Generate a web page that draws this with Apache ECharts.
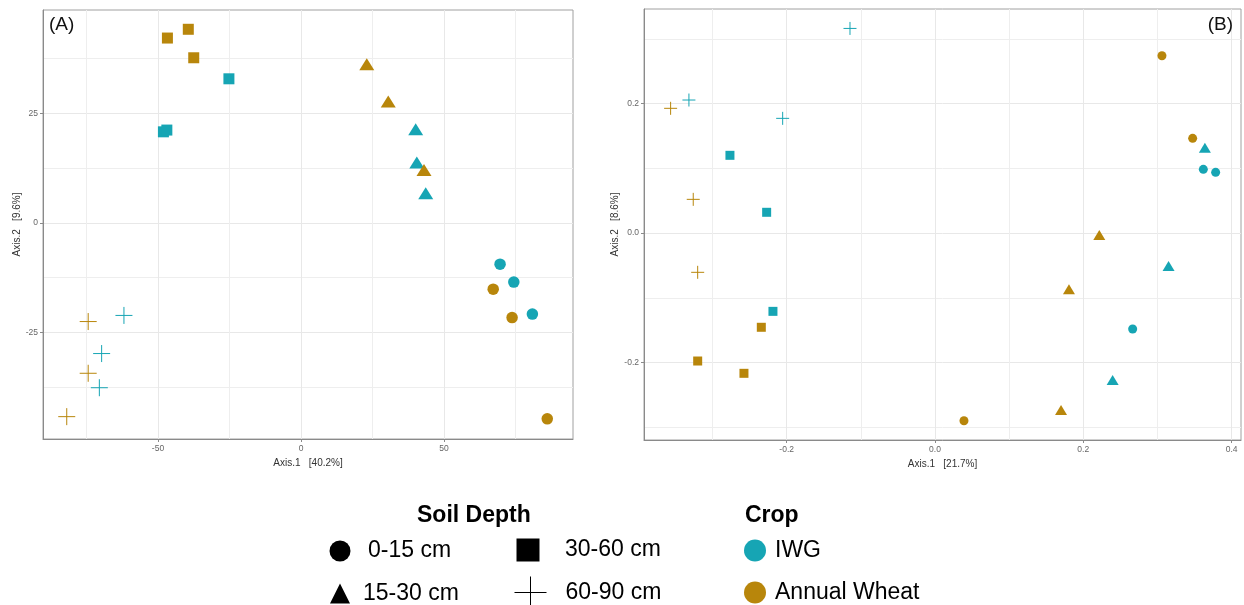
<!DOCTYPE html>
<html><head><meta charset="utf-8">
<script src="https://cdn.jsdelivr.net/npm/echarts@6/dist/echarts.min.js"></script>
<style>html,body{margin:0;padding:0;background:#fff}#c{width:1244px;height:605px}</style>
</head><body><div id="c"></div>
<script>
// ---------- Panel A : Axis.1 [40.2%] vs Axis.2 [9.6%] ----------
const aIWG_0_15  = [[69.6,-9.4],[74.4,-13.5],[80.9,-20.8]];
const aAW_0_15   = [[67.2,-15.1],[73.8,-21.6],[86.1,-44.7]];
const aIWG_15_30 = [[40.1,21.4],[40.5,13.8],[43.6,6.8]];
const aAW_15_30  = [[23.0,36.2],[30.5,27.7],[43.0,12.1]];
const aIWG_30_60 = [[-25.2,32.9],[-48.1,20.8],[-46.9,21.2]];
const aAW_30_60  = [[-46.7,42.2],[-39.4,44.2],[-37.5,37.7]];
const aIWG_60_90 = [[-61.9,-21.1],[-69.7,-29.8],[-70.5,-37.6]];
const aAW_60_90  = [[-74.4,-22.5],[-74.4,-34.3],[-81.9,-44.2]];
const aXRange = [-90.2, 95.1];
const aYRange = [-49.3, 48.6];
const aXTicks = [-50, 0, 50];
const aXMinor = [-75, -25, 25, 75];
const aYTicks = [-25, 0, 25];
const aYMinor = [-37.5, -12.5, 12.5, 37.5];

// ---------- Panel B : Axis.1 [21.7%] vs Axis.2 [8.6%] ----------
const bIWG_0_15  = [[0.3619,0.0983],[0.3785,0.0937],[0.2666,-0.1483]];
const bAW_0_15   = [[0.3061,0.2738],[0.3475,0.1462],[0.0391,-0.290]];
const bIWG_15_30 = [[0.364,0.1318],[0.315,-0.051],[0.2396,-0.227]];
const bAW_15_30  = [[0.2216,-0.003],[0.1807,-0.087],[0.170,-0.2734]];
const bIWG_30_60 = [[-0.2765,0.12],[-0.227,0.032],[-0.2185,-0.121]];
const bAW_30_60  = [[-0.2342,-0.1456],[-0.320,-0.1977],[-0.2576,-0.2167]];
const bIWG_60_90 = [[-0.1146,0.316],[-0.3318,0.2054],[-0.2054,0.1771]];
const bAW_60_90  = [[-0.3565,0.1926],[-0.326,0.052],[-0.320,-0.0607]];
const bXRange = [-0.3924, 0.4127];
const bYRange = [-0.3197, 0.346];
const bXTicks = [-0.2, 0, 0.2, 0.4];
const bXMinor = [-0.3, -0.1, 0.1, 0.3];
const bYTicks = [-0.2, 0, 0.2];
const bYMinor = [-0.3, -0.1, 0.1, 0.3];

const depths = ['0-15 cm', '15-30 cm', '30-60 cm', '60-90 cm'];
const crops = ['IWG', 'Annual Wheat'];

const COL = {'IWG': '#16a5b4', 'Annual Wheat': '#b8860b'};
const FONT = 'Liberation Sans, Arial, sans-serif';
const CROSS = 'path://M5,0L5,10M0,5L10,5';
const SQUARE = 'path://M0,0L10,0L10,10L0,10Z';
const TRI = 'path://M5,0L10,10L0,10Z';

const chart = echarts.init(document.getElementById('c'), null, {renderer: 'canvas'});

function mainX(grid, r, ticks, name, fmt) {
  return {gridIndex: grid, type: 'value', min: r[0], max: r[1], position: 'bottom',
    name: name, nameLocation: 'middle', nameGap: 17,
    nameTextStyle: {fontSize: 10, color: '#333', fontFamily: FONT},
    axisLine: {show: true, onZero: false, lineStyle: {color: '#8a8a8a', width: 1}},
    axisTick: {show: true, length: 3, lineStyle: {color: '#8a8a8a'}, customValues: ticks},
    axisLabel: {customValues: ticks, fontSize: 8.5, color: '#666', margin: 5, fontFamily: FONT, formatter: fmt},
    splitLine: {show: true, lineStyle: {color: '#e8e8e8', width: 1}}};
}
function mainY(grid, r, ticks, name, fmt, gap) {
  return {gridIndex: grid, type: 'value', min: r[0], max: r[1], position: 'left',
    name: name, nameLocation: 'middle', nameGap: gap,
    nameTextStyle: {fontSize: 10, color: '#333', fontFamily: FONT},
    axisLine: {show: true, onZero: false, lineStyle: {color: '#8a8a8a', width: 1}},
    axisTick: {show: true, length: 3, lineStyle: {color: '#8a8a8a'}, customValues: ticks},
    axisLabel: {customValues: ticks, fontSize: 8.5, color: '#666', margin: 5, fontFamily: FONT, formatter: fmt},
    splitLine: {show: true, lineStyle: {color: '#e8e8e8', width: 1}}};
}
function minorAxis(grid, r, ticks, pos) {
  return {gridIndex: grid, type: 'value', min: r[0], max: r[1], position: pos,
    axisLine: {show: false}, axisLabel: {show: false},
    axisTick: {show: false, customValues: ticks},
    splitLine: {show: true, lineStyle: {color: '#eeeeee', width: 1}}};
}

const fmtInt = v => String(v);
const fmt1 = v => v.toFixed(1);

function pts(name, data, xi, yi, depthIdx, crop, sizes) {
  const c = COL[crop];
  const s = {type: 'scatter', name: name, xAxisIndex: xi, yAxisIndex: yi, data: data, silent: true,
    itemStyle: {color: c, opacity: 1}};
  if (depthIdx === 0) { s.symbol = 'circle'; s.symbolSize = sizes[0]; }
  else if (depthIdx === 1) { s.symbol = 'triangle'; s.symbolSize = sizes[1]; }
  else if (depthIdx === 2) { s.symbol = 'rect'; s.symbolSize = sizes[2]; }
  else { s.symbol = CROSS; s.symbolSize = sizes[3];
    s.itemStyle = {color: 'rgba(0,0,0,0)', borderColor: c, borderWidth: 1, opacity: 1}; }
  return s;
}

const sizesA = [11.5, [15, 12], 11, 17];
const sizesB = [9, [12, 10], 9, 13];
const setsA = [[aIWG_60_90,3,'IWG'],[aAW_60_90,3,'Annual Wheat'],[aIWG_30_60,2,'IWG'],[aAW_30_60,2,'Annual Wheat'],
  [aIWG_15_30,1,'IWG'],[aAW_15_30,1,'Annual Wheat'],[aIWG_0_15,0,'IWG'],[aAW_0_15,0,'Annual Wheat']];
const setsB = [[bIWG_60_90,3,'IWG'],[bAW_60_90,3,'Annual Wheat'],[bIWG_30_60,2,'IWG'],[bAW_30_60,2,'Annual Wheat'],
  [bIWG_15_30,1,'IWG'],[bAW_15_30,1,'Annual Wheat'],[bIWG_0_15,0,'IWG'],[bAW_0_15,0,'Annual Wheat']];

const series = [];
setsA.forEach(s => series.push(pts('A ' + s[2] + ' ' + depths[s[1]], s[0], 0, 0, s[1], s[2], sizesA)));
setsB.forEach(s => series.push(pts('B ' + s[2] + ' ' + depths[s[1]], s[0], 2, 2, s[1], s[2], sizesB)));

// legend-only series (no data)
function dummy(name, symbol, style) {
  return {type: 'scatter', name: name, xAxisIndex: 0, yAxisIndex: 0, data: [], symbol: symbol, itemStyle: style};
}
series.push(dummy(depths[0], 'circle', {color: '#000', opacity: 1}));
series.push(dummy(depths[1], TRI, {color: '#000', opacity: 1}));
series.push(dummy(depths[2], SQUARE, {color: '#000', opacity: 1}));
series.push(dummy(depths[3], CROSS, {color: 'rgba(0,0,0,0)', borderColor: '#000', borderWidth: 1, opacity: 1}));
series.push(dummy(crops[0], 'circle', {color: COL['IWG'], opacity: 1}));
series.push(dummy(crops[1], 'circle', {color: COL['Annual Wheat'], opacity: 1}));

// icon centre cx, icon size h, text start tx
function leg(name, icon, cx, cy, h, tx, style) {
  const left = cx - h / 2;
  const w = 2 * (tx - 5 - left) - h;
  return {show: true, orient: 'horizontal', left: left, top: cy - h / 2, padding: 0, itemGap: 0,
    itemWidth: w, itemHeight: h, selectedMode: false, symbolKeepAspect: true,
    data: [{name: name, icon: icon}],
    itemStyle: Object.assign({opacity: 1}, style),
    textStyle: {fontSize: 23, color: '#000', fontFamily: FONT}};
}

const option = {
  backgroundColor: '#fff',
  animation: false,
  title: [
    {text: '(A)', left: 49, top: 15, padding: 0, textStyle: {fontSize: 19, fontWeight: 'normal', color: '#111', fontFamily: FONT}},
    {text: '(B)', right: 11, top: 15, padding: 0, textStyle: {fontSize: 19, fontWeight: 'normal', color: '#111', fontFamily: FONT}},
    {text: 'Soil Depth', left: 417, top: 504, padding: 0, textStyle: {fontSize: 23, fontWeight: 'bold', color: '#000', fontFamily: FONT}},
    {text: 'Crop', left: 745, top: 504, padding: 0, textStyle: {fontSize: 23, fontWeight: 'bold', color: '#000', fontFamily: FONT}}
  ],
  grid: [
    {left: 43, top: 10, width: 530, height: 429, show: true, borderColor: '#a0a0a0', borderWidth: 1, backgroundColor: '#fff', containLabel: false, outerBoundsMode: 'none'},
    {left: 644, top: 9, width: 597, height: 431, show: true, borderColor: '#a0a0a0', borderWidth: 1, backgroundColor: '#fff', containLabel: false, outerBoundsMode: 'none'}
  ],
  xAxis: [
    mainX(0, aXRange, aXTicks, 'Axis.1   [40.2%]', fmtInt),
    minorAxis(0, aXRange, aXMinor, 'top'),
    mainX(1, bXRange, bXTicks, 'Axis.1   [21.7%]', fmt1),
    minorAxis(1, bXRange, bXMinor, 'top')
  ],
  yAxis: [
    mainY(0, aYRange, aYTicks, 'Axis.2   [9.6%]', fmtInt, 20),
    minorAxis(0, aYRange, aYMinor, 'right'),
    mainY(1, bYRange, bYTicks, 'Axis.2   [8.6%]', fmt1, 20),
    minorAxis(1, bYRange, bYMinor, 'right')
  ],
  legend: [
    leg(depths[0], 'circle', 340, 550, 21, 368, {color: '#000'}),
    leg(depths[1], TRI, 340, 592, 20, 363, {color: '#000'}),
    leg(depths[2], SQUARE, 528, 550, 23, 565, {color: '#000'}),
    leg(depths[3], CROSS, 530, 592, 32, 565, {color: 'rgba(0,0,0,0)', borderColor: '#000', borderWidth: 1}),
    leg(crops[0], 'circle', 755, 550, 22, 775, {color: COL['IWG']}),
    leg(crops[1], 'circle', 755, 592, 22, 775, {color: COL['Annual Wheat']})
  ],
  series: series
};
chart.setOption(option);
</script>
</body></html>
